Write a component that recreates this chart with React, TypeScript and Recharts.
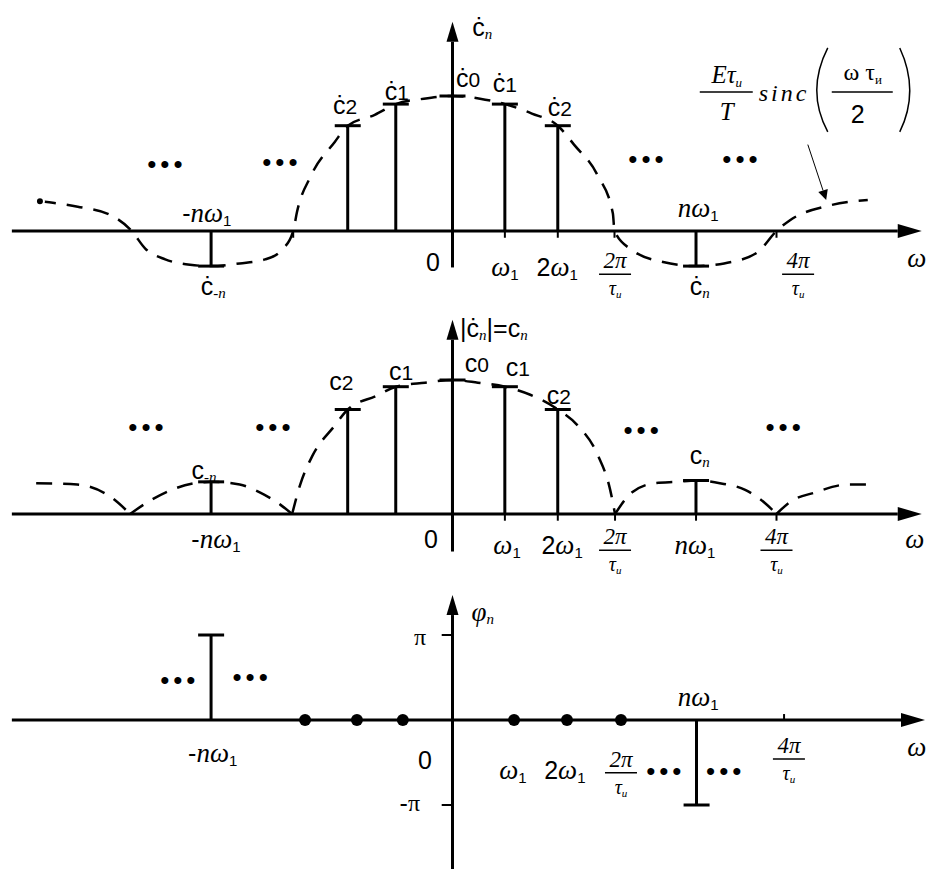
import React from "react";
import { Bar, ComposedChart, Line, ReferenceLine, Scatter, XAxis, YAxis } from "recharts";

// ω axis in multiples of ω1 (2π/τи = 3ω1, 4π/τи = 6ω1)
const W = 929;
const X_ORIGIN = 452.5;
const X_UNIT = 54;
const X_DOMAIN = [-X_ORIGIN / X_UNIT, (W - X_ORIGIN) / X_UNIT];

// ---- panel 1: complex spectrum ċn (c0 = 1)
const COMPLEX_STEMS = [
  { x: -4.47, y: -0.26 },
  { x: -1.94, y: 0.78 },
  { x: -1.05, y: 0.94 },
  { x: 0, y: 1.0 },
  { x: 0.97, y: 0.94 },
  { x: 1.95, y: 0.78 },
  { x: 4.51, y: -0.26 },
];

const SINC_ENVELOPE = [
  { x: -7.64, y: 0.22 }, { x: -6.94, y: 0.18 }, { x: -6.34, y: 0.12 }, { x: -5.94, y: 0 },
  { x: -5.69, y: -0.13 }, { x: -5.32, y: -0.21 }, { x: -4.86, y: -0.25 }, { x: -4.47, y: -0.26 },
  { x: -3.94, y: -0.24 }, { x: -3.47, y: -0.21 }, { x: -3.16, y: -0.14 }, { x: -2.95, y: 0 },
  { x: -2.88, y: 0.14 }, { x: -2.62, y: 0.41 }, { x: -2.18, y: 0.66 }, { x: -1.94, y: 0.78 },
  { x: -1.44, y: 0.86 }, { x: -1.05, y: 0.94 }, { x: -0.53, y: 0.98 }, { x: 0, y: 1.0 },
  { x: 0.51, y: 0.98 }, { x: 0.97, y: 0.94 }, { x: 1.47, y: 0.87 }, { x: 1.95, y: 0.78 },
  { x: 2.25, y: 0.64 }, { x: 2.69, y: 0.41 }, { x: 2.97, y: 0.13 }, { x: 3.0, y: 0 },
  { x: 3.32, y: -0.14 }, { x: 3.9, y: -0.23 }, { x: 4.51, y: -0.26 }, { x: 5.03, y: -0.24 },
  { x: 5.64, y: -0.16 }, { x: 6.0, y: 0 }, { x: 6.25, y: 0.08 }, { x: 6.99, y: 0.19 },
  { x: 7.69, y: 0.23 },
];

// ---- panel 2: amplitude spectrum |ċn| = cn
const AMPLITUDE_STEMS = [
  { x: -4.47, y: 0.24 },
  { x: -1.94, y: 0.78 },
  { x: -1.05, y: 0.95 },
  { x: 0, y: 1.0 },
  { x: 0.97, y: 0.95 },
  { x: 1.95, y: 0.78 },
  { x: 4.51, y: 0.25 },
];

const LOBE_LEFT_2 = [
  { x: -7.71, y: 0.23 }, { x: -6.95, y: 0.22 }, { x: -6.34, y: 0.13 }, { x: -5.97, y: 0 },
];
const LOBE_LEFT_1 = [
  { x: -5.97, y: 0 }, { x: -5.6, y: 0.1 }, { x: -5.14, y: 0.19 }, { x: -4.77, y: 0.23 },
  { x: -4.47, y: 0.24 }, { x: -3.94, y: 0.22 }, { x: -3.56, y: 0.16 }, { x: -3.19, y: 0.07 },
  { x: -2.97, y: 0 },
];
const LOBE_MAIN = [
  { x: -2.97, y: 0 }, { x: -2.82, y: 0.22 }, { x: -2.6, y: 0.43 }, { x: -2.18, y: 0.66 },
  { x: -1.94, y: 0.78 }, { x: -1.42, y: 0.88 }, { x: -1.05, y: 0.95 }, { x: -0.51, y: 0.98 },
  { x: 0, y: 1.0 }, { x: 0.47, y: 0.98 }, { x: 0.97, y: 0.95 }, { x: 1.44, y: 0.89 },
  { x: 1.95, y: 0.78 }, { x: 2.32, y: 0.66 }, { x: 2.69, y: 0.44 }, { x: 2.92, y: 0.18 },
  { x: 3.01, y: 0 },
];
const LOBE_RIGHT_1 = [
  { x: 3.01, y: 0 }, { x: 3.32, y: 0.16 }, { x: 3.75, y: 0.23 }, { x: 4.16, y: 0.24 },
  { x: 4.51, y: 0.25 }, { x: 4.95, y: 0.23 }, { x: 5.42, y: 0.18 }, { x: 5.79, y: 0.08 },
  { x: 6.0, y: 0 },
];
const LOBE_RIGHT_2 = [
  { x: 6.0, y: 0 }, { x: 6.25, y: 0.09 }, { x: 6.71, y: 0.16 }, { x: 7.32, y: 0.22 },
  { x: 7.82, y: 0.22 },
];

// ---- panel 3: phase spectrum φn (in units of π)
const PHASE_STEMS = [
  { x: -4.47, y: 1 },
  { x: 4.52, y: -1 },
];
const PHASE_ZERO = [
  { x: -2.73, y: 0 }, { x: -1.77, y: 0 }, { x: -0.92, y: 0 },
  { x: 1.14, y: 0 }, { x: 2.12, y: 0 }, { x: 3.12, y: 0 },
];

const TICKS_1 = [-2.95, 0.97, 1.95, 3.0, 6.0];
const TICKS_2 = [0.97, 1.95, 3.01, 4.51, 6.0];

// ---- labels (x in ω1, y in panel units)
const LABELS_1 = [
  { x: 0.55, y: 1.51, parts: [["ċ", "s"], ["n", "isub"]] },
  { x: -1.99, y: 0.93, parts: [["ċ", "s"], ["2", "idx"]] },
  { x: -1.03, y: 1.04, parts: [["ċ", "s"], ["1", "idx"]] },
  { x: 0.29, y: 1.13, parts: [["ċ", "s"], ["0", "idx"]] },
  { x: 0.97, y: 1.1, parts: [["ċ", "s"], ["1", "idx"]] },
  { x: 1.99, y: 0.92, parts: [["ċ", "s"], ["2", "idx"]] },
  { x: -4.55, y: 0.13, parts: [["-", "s"], ["n", "i"], ["ω", "i"], ["1", "sub"]] },
  { x: 4.55, y: 0.17, parts: [["n", "i"], ["ω", "i"], ["1", "sub"]] },
  { x: -4.43, y: -0.41, parts: [["ċ", "s"], ["-n", "isub"]] },
  { x: 4.58, y: -0.41, parts: [["ċ", "s"], ["n", "isub"]] },
  { x: -0.36, y: -0.23, parts: [["0", "s"]] },
  { x: 0.97, y: -0.27, parts: [["ω", "i"], ["1", "sub"]] },
  { x: 1.94, y: -0.27, parts: [["2", "s"], ["ω", "i"], ["1", "sub"]] },
  { x: 3.01, y: -0.32, frac: "2π" },
  { x: 6.4, y: -0.32, frac: "4π" },
  { x: 8.6, y: -0.2, parts: [["ω", "i"]] },
  { x: -5.29, y: 0.5, parts: [["•••", "dots"]] },
  { x: -3.16, y: 0.51, parts: [["•••", "dots"]] },
  { x: 3.62, y: 0.53, parts: [["•••", "dots"]] },
  { x: 5.36, y: 0.53, parts: [["•••", "dots"]] },
  { x: 6.19, y: 1.03, formula: true },
];

const LABELS_2 = [
  { x: 0.14, y: 1.39, anchor: "start", parts: [["|", "s"], ["ċ", "s"], ["n", "isub"], ["|=", "s"], ["c", "s"], ["n", "isub"]] },
  { x: -2.06, y: 0.99, parts: [["c", "s"], ["2", "idx"]] },
  { x: -0.95, y: 1.07, parts: [["c", "s"], ["1", "idx"]] },
  { x: 0.45, y: 1.13, parts: [["c", "s"], ["0", "idx"]] },
  { x: 1.21, y: 1.1, parts: [["c", "s"], ["1", "idx"]] },
  { x: 1.97, y: 0.89, parts: [["c", "s"], ["2", "idx"]] },
  { x: -4.6, y: 0.33, parts: [["c", "s"], ["-n", "isub"]] },
  { x: 4.58, y: 0.44, parts: [["c", "s"], ["n", "isub"]] },
  { x: -5.64, y: 0.65, parts: [["•••", "dots"]] },
  { x: -3.29, y: 0.65, parts: [["•••", "dots"]] },
  { x: 3.53, y: 0.63, parts: [["•••", "dots"]] },
  { x: 6.16, y: 0.65, parts: [["•••", "dots"]] },
  { x: -4.38, y: -0.19, parts: [["-", "s"], ["n", "i"], ["ω", "i"], ["1", "sub"]] },
  { x: -0.4, y: -0.19, parts: [["0", "s"]] },
  { x: 1.01, y: -0.23, parts: [["ω", "i"], ["1", "sub"]] },
  { x: 2.03, y: -0.23, parts: [["2", "s"], ["ω", "i"], ["1", "sub"]] },
  { x: 3.01, y: -0.27, frac: "2π" },
  { x: 4.49, y: -0.23, parts: [["n", "i"], ["ω", "i"], ["1", "sub"]] },
  { x: 6.0, y: -0.27, frac: "4π" },
  { x: 8.56, y: -0.19, parts: [["ω", "i"]] },
];

const LABELS_3 = [
  { x: 0.56, y: 1.27, parts: [["φ", "i"], ["n", "isub"]] },
  { x: -0.6, y: 0.98, parts: [["π", "r"]] },
  { x: -0.79, y: -0.98, parts: [["-", "s"], ["π", "r"]] },
  { x: -0.51, y: -0.47, parts: [["0", "s"]] },
  { x: -4.44, y: -0.39, parts: [["-", "s"], ["n", "i"], ["ω", "i"], ["1", "sub"]] },
  { x: 4.55, y: 0.27, parts: [["n", "i"], ["ω", "i"], ["1", "sub"]] },
  { x: 1.12, y: -0.59, parts: [["ω", "i"], ["1", "sub"]] },
  { x: 2.08, y: -0.59, parts: [["2", "s"], ["ω", "i"], ["1", "sub"]] },
  { x: 3.12, y: -0.62, frac: "2π" },
  { x: 6.23, y: -0.46, frac: "4π" },
  { x: -5.05, y: 0.47, parts: [["•••", "dots"]] },
  { x: -3.71, y: 0.51, parts: [["•••", "dots"]] },
  { x: 3.95, y: -0.6, parts: [["•••", "dots"]] },
  { x: 5.06, y: -0.6, parts: [["•••", "dots"]] },
  { x: 8.6, y: -0.32, parts: [["ω", "i"]] },
];

const SANS = "'Liberation Sans', Arial, sans-serif";
const SERIF = "'Liberation Serif', 'Times New Roman', serif";

const RUN_STYLE: Record<string, { font: string; size: number; italic?: boolean; shift: number; spacing?: number }> = {
  s: { font: SANS, size: 25, shift: 0 },
  idx: { font: SANS, size: 21, shift: 1 },
  i: { font: SERIF, size: 27, italic: true, shift: 0 },
  r: { font: SERIF, size: 24, shift: 0 },
  sub: { font: SANS, size: 15, shift: 7 },
  isub: { font: SERIF, size: 15, italic: true, shift: 7 },
  dots: { font: SANS, size: 26, shift: 0, spacing: 4 },
};

function Fraction({ cx, cy, num }: { cx: number; cy: number; num: string }) {
  return (
    <g fill="#000">
      <text x={cx} y={cy - 6} textAnchor="middle" fontFamily={SERIF} fontStyle="italic" fontSize={23}>
        {num}
      </text>
      <line x1={cx - 16} x2={cx + 16} y1={cy} y2={cy} stroke="#000" strokeWidth={1.5} />
      <text x={cx} y={cy + 21} textAnchor="middle" fontFamily={SERIF} fontStyle="italic" fontSize={20}>
        τ<tspan fontSize={11} dy={3}>и</tspan>
      </text>
    </g>
  );
}

function Formula({ cx, cy }: { cx: number; cy: number }) {
  return (
    <g fontFamily={SERIF} fill="#000">
      <text x={cx - 60} y={cy - 9} textAnchor="middle" fontStyle="italic" fontSize={25}>
        Eτ<tspan fontSize={13} dy={4}>и</tspan>
      </text>
      <line x1={cx - 87} x2={cx - 34} y1={cy} y2={cy} stroke="#000" strokeWidth={1.5} />
      <text x={cx - 60} y={cy + 28} textAnchor="middle" fontStyle="italic" fontSize={25}>
        T
      </text>
      <text x={cx - 28} y={cy + 9} fontStyle="italic" fontSize={24} letterSpacing={3}>
        sinc
      </text>
      <path d={`M${cx + 41},${cy - 44} Q${cx + 19},${cy - 1} ${cx + 41},${cy + 40}`} fill="none" stroke="#000" strokeWidth={1.5} />
      <text x={cx + 76} y={cy - 12} textAnchor="middle" fontSize={24}>
        ω τ<tspan fontSize={13} dy={4}>и</tspan>
      </text>
      <line x1={cx + 45} x2={cx + 106} y1={cy} y2={cy} stroke="#000" strokeWidth={1.5} />
      <text x={cx + 71} y={cy + 31} textAnchor="middle" fontFamily={SANS} fontSize={25}>
        2
      </text>
      <path d={`M${cx + 113},${cy - 44} Q${cx + 133},${cy - 1} ${cx + 113},${cy + 40}`} fill="none" stroke="#000" strokeWidth={1.5} />
    </g>
  );
}

function LabelShape(props: any) {
  const { cx, cy, payload } = props;
  if (payload.frac) return <Fraction cx={cx} cy={cy} num={payload.frac} />;
  if (payload.formula) return <Formula cx={cx} cy={cy} />;
  let shift = 0;
  return (
    <text x={cx} y={cy} textAnchor={payload.anchor ?? "middle"} dominantBaseline="central" fill="#000">
      {payload.parts.map(([t, k]: [string, string], i: number) => {
        const st = RUN_STYLE[k];
        const dy = st.shift - shift;
        shift = st.shift;
        return (
          <tspan
            key={i}
            dy={dy}
            fontFamily={st.font}
            fontSize={st.size}
            fontStyle={st.italic ? "italic" : "normal"}
            letterSpacing={st.spacing ?? 0}
          >
            {t}
          </tspan>
        );
      })}
    </text>
  );
}

function arrowShape(head: number, half: number, width: number) {
  return (p: any) => {
    const { x1, y1, x2, y2 } = p;
    const len = Math.hypot(x2 - x1, y2 - y1) || 1;
    const ux = (x2 - x1) / len;
    const uy = (y2 - y1) / len;
    const bx = x2 - ux * head;
    const by = y2 - uy * head;
    return (
      <g>
        <line x1={x1} y1={y1} x2={bx} y2={by} stroke="#000" strokeWidth={width} />
        <polygon
          points={`${x2},${y2} ${bx - uy * half},${by + ux * half} ${bx + uy * half},${by - ux * half}`}
          fill="#000"
        />
      </g>
    );
  };
}

// stem drawn along the bar's centre line, whatever width recharts gives it
const stemShape = (p: any) => {
  const cx = p.x + p.width / 2;
  return <line x1={cx} x2={cx} y1={p.y} y2={p.y + p.height} stroke="#000" strokeWidth={3} />;
};
const capShape = (p: any) => (
  <line x1={p.cx - 13} x2={p.cx + 13} y1={p.cy} y2={p.cy} stroke="#000" strokeWidth={3} />
);
const dotShape = (p: any) => <circle cx={p.cx} cy={p.cy} r={6} fill="#000" />;

function yDomain(height: number, base: number, unit: number) {
  return [-(height - base) / unit, base / unit];
}

const ENVELOPE_STYLE = {
  stroke: "#000",
  strokeWidth: 2.5,
  strokeDasharray: "16 11",
  dot: false,
  type: "monotone" as const,
  isAnimationActive: false,
};

function Axes({ xEnd, yBottom, yTop }: { xEnd: number; yBottom: number; yTop: number }) {
  return (
    <>
      <ReferenceLine
        segment={[{ x: -8.16, y: 0 }, { x: xEnd, y: 0 }]}
        ifOverflow="visible"
        shape={arrowShape(24, 7, 3)}
      />
      <ReferenceLine
        segment={[{ x: 0, y: yBottom }, { x: 0, y: yTop }]}
        ifOverflow="visible"
        shape={arrowShape(20, 6, 3)}
      />
    </>
  );
}

export default function App() {
  const h1 = 300, h2 = 280, h3 = 289;
  const d1 = yDomain(h1, 231, 135);
  const d2 = yDomain(h2, 214, 134);
  const d3 = yDomain(h3, 140, 85);
  const margin = { top: 0, right: 0, bottom: 0, left: 0 };

  return (
    <div style={{ position: "absolute", left: 0, top: 0, width: W, height: 869, background: "#fff" }}>
      <div style={{ position: "absolute", left: 0, top: 0 }}>
        <ComposedChart width={W} height={h1} data={COMPLEX_STEMS} margin={margin}>
          <XAxis hide type="number" dataKey="x" domain={X_DOMAIN} allowDataOverflow />
          <YAxis hide type="number" dataKey="y" domain={d1} allowDataOverflow />
          <Line data={SINC_ENVELOPE} dataKey="y" {...ENVELOPE_STYLE} />
          {TICKS_1.map((t) => (
            <ReferenceLine key={t} segment={[{ x: t, y: 0 }, { x: t, y: -0.05 }]} stroke="#000" strokeWidth={2} ifOverflow="visible" />
          ))}
          <Axes xEnd={8.69} yBottom={-0.27} yTop={1.55} />
          <Bar dataKey="y" fill="#000" barSize={3} shape={stemShape} isAnimationActive={false} />
          <Scatter data={COMPLEX_STEMS} shape={capShape} isAnimationActive={false} />
          <ReferenceLine
            segment={[{ x: 6.58, y: 0.64 }, { x: 6.92, y: 0.23 }]}
            ifOverflow="visible"
            shape={arrowShape(10, 5, 1)}
          />
          <Scatter data={LABELS_1} shape={LabelShape} isAnimationActive={false} />
        </ComposedChart>
      </div>

      <div style={{ position: "absolute", left: 0, top: 300 }}>
        <ComposedChart width={W} height={h2} data={AMPLITUDE_STEMS} margin={margin}>
          <XAxis hide type="number" dataKey="x" domain={X_DOMAIN} allowDataOverflow />
          <YAxis hide type="number" dataKey="y" domain={d2} allowDataOverflow />
          <Line data={LOBE_LEFT_2} dataKey="y" {...ENVELOPE_STYLE} />
          <Line data={LOBE_LEFT_1} dataKey="y" {...ENVELOPE_STYLE} />
          <Line data={LOBE_MAIN} dataKey="y" {...ENVELOPE_STYLE} />
          <Line data={LOBE_RIGHT_1} dataKey="y" {...ENVELOPE_STYLE} />
          <Line data={LOBE_RIGHT_2} dataKey="y" {...ENVELOPE_STYLE} />
          {TICKS_2.map((t) => (
            <ReferenceLine key={t} segment={[{ x: t, y: 0 }, { x: t, y: -0.05 }]} stroke="#000" strokeWidth={2} ifOverflow="visible" />
          ))}
          <Axes xEnd={8.69} yBottom={-0.28} yTop={1.45} />
          <Bar dataKey="y" fill="#000" barSize={3} shape={stemShape} isAnimationActive={false} />
          <Scatter data={AMPLITUDE_STEMS} shape={capShape} isAnimationActive={false} />
          <Scatter data={LABELS_2} shape={LabelShape} isAnimationActive={false} />
        </ComposedChart>
      </div>

      <div style={{ position: "absolute", left: 0, top: 580 }}>
        <ComposedChart width={W} height={h3} data={PHASE_STEMS} margin={margin}>
          <XAxis hide type="number" dataKey="x" domain={X_DOMAIN} allowDataOverflow />
          <YAxis hide type="number" dataKey="y" domain={d3} allowDataOverflow />
          <Axes xEnd={8.75} yBottom={-1.76} yTop={1.47} />
          <ReferenceLine segment={[{ x: -0.2, y: 1 }, { x: 0, y: 1 }]} stroke="#000" strokeWidth={2} ifOverflow="visible" />
          <ReferenceLine segment={[{ x: -0.2, y: -1 }, { x: 0, y: -1 }]} stroke="#000" strokeWidth={2} ifOverflow="visible" />
          <ReferenceLine segment={[{ x: 6.14, y: 0 }, { x: 6.14, y: 0.07 }]} stroke="#000" strokeWidth={2} ifOverflow="visible" />
          <Bar dataKey="y" fill="#000" barSize={3} shape={stemShape} isAnimationActive={false} />
          <Scatter data={PHASE_STEMS} shape={capShape} isAnimationActive={false} />
          <Scatter data={PHASE_ZERO} shape={dotShape} isAnimationActive={false} />
          <Scatter data={LABELS_3} shape={LabelShape} isAnimationActive={false} />
        </ComposedChart>
      </div>
    </div>
  );
}
